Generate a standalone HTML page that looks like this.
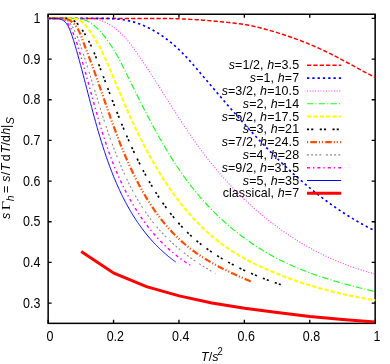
<!DOCTYPE html>
<html><head><meta charset="utf-8"><title>plot</title>
<style>html,body{margin:0;padding:0;background:#fff}svg{display:block;will-change:transform}text{font-family:"Liberation Sans",sans-serif;fill:#000}</style></head>
<body>
<svg width="390" height="364" viewBox="0 0 390 364">
<rect width="390" height="364" fill="#fff"/>
<defs><clipPath id="c"><rect x="47.40" y="13.50" width="328.50" height="311.60"/></clipPath><clipPath id="c2"><rect x="0" y="0" width="374.40" height="364"/></clipPath></defs>
<g stroke="#000" stroke-width="1.5" fill="none">
<rect x="48.15" y="14.25" width="327.00" height="309.10"/>
<path d="M48.15 303.09h3.50 M375.15 303.09h-3.50 M48.15 262.42h3.50 M375.15 262.42h-3.50 M48.15 221.75h3.50 M375.15 221.75h-3.50 M48.15 181.08h3.50 M375.15 181.08h-3.50 M48.15 140.41h3.50 M375.15 140.41h-3.50 M48.15 99.74h3.50 M375.15 99.74h-3.50 M48.15 59.07h3.50 M375.15 59.07h-3.50 M48.15 18.40h3.50 M375.15 18.40h-3.50 M48.15 323.35v-3.50 M48.15 14.25v3.50 M113.55 323.35v-3.50 M113.55 14.25v3.50 M178.95 323.35v-3.50 M178.95 14.25v3.50 M244.35 323.35v-3.50 M244.35 14.25v3.50 M309.75 323.35v-3.50 M309.75 14.25v3.50 M375.15 323.35v-3.50 M375.15 14.25v3.50" stroke-width="1.35"/>
</g>
<g fill="none" clip-path="url(#c)" stroke-linejoin="round">
<path d="M48.50 18.40 L50.04 18.40 L51.58 18.40 L53.13 18.40 L54.67 18.40 L56.21 18.40 L57.76 18.40 L59.30 18.40 L60.84 18.40 L62.38 18.40 L63.93 18.40 L65.47 18.40 L67.01 18.40 L68.56 18.40 L70.10 18.40 L71.64 18.40 L73.19 18.40 L74.73 18.40 L76.28 18.40 L77.82 18.40 L79.36 18.40 L80.91 18.40 L82.45 18.40 L84.00 18.40 L85.54 18.40 L87.08 18.40 L88.63 18.40 L90.17 18.40 L91.72 18.40 L93.26 18.40 L94.81 18.40 L96.35 18.40 L97.90 18.40 L99.44 18.40 L100.99 18.40 L102.53 18.40 L104.07 18.40 L105.62 18.40 L107.16 18.40 L108.71 18.40 L110.25 18.40 L111.80 18.40 L113.34 18.40 L114.89 18.40 L116.43 18.40 L117.98 18.40 L119.52 18.40 L121.07 18.40 L122.61 18.40 L124.16 18.40 L125.70 18.40 L127.25 18.40 L128.79 18.40 L130.33 18.40 L131.88 18.40 L133.42 18.40 L134.97 18.40 L136.51 18.40 L138.06 18.40 L139.60 18.40 L141.14 18.40 L142.69 18.40 L144.23 18.40 L145.78 18.40 L147.32 18.40 L148.87 18.40 L150.41 18.40 L151.95 18.40 L153.50 18.40 L155.04 18.40 L156.58 18.40 L158.13 18.40 L159.67 18.40 L161.21 18.40 L162.76 18.40 L164.30 18.42 L165.84 18.45 L167.39 18.49 L168.93 18.52 L170.47 18.56 L172.01 18.61 L173.56 18.65 L175.10 18.70 L176.64 18.75 L178.18 18.80 L179.73 18.86 L181.27 18.92 L182.81 18.99 L184.35 19.05 L185.89 19.13 L187.43 19.20 L188.97 19.28 L190.52 19.36 L192.06 19.45 L193.60 19.54 L195.14 19.63 L196.68 19.73 L198.22 19.83 L199.76 19.93 L201.30 20.04 L202.84 20.16 L204.38 20.27 L205.92 20.39 L207.46 20.52 L208.99 20.65 L210.53 20.78 L212.07 20.91 L213.61 21.05 L215.15 21.19 L216.69 21.33 L218.23 21.48 L219.76 21.62 L221.30 21.77 L222.84 21.93 L224.37 22.08 L225.91 22.24 L227.45 22.40 L228.99 22.56 L230.52 22.72 L232.06 22.89 L233.59 23.06 L235.13 23.23 L236.66 23.41 L238.19 23.59 L239.73 23.79 L241.26 23.99 L242.78 24.21 L244.31 24.45 L245.83 24.70 L247.35 24.96 L248.86 25.25 L250.37 25.55 L251.88 25.86 L253.39 26.19 L254.89 26.53 L256.39 26.89 L257.89 27.25 L259.39 27.62 L260.88 28.01 L262.38 28.40 L263.87 28.79 L265.36 29.20 L266.85 29.60 L268.34 30.02 L269.82 30.44 L271.31 30.87 L272.79 31.30 L274.27 31.74 L275.75 32.18 L277.23 32.63 L278.71 33.09 L280.18 33.55 L281.65 34.02 L283.12 34.50 L284.59 34.98 L286.05 35.47 L287.52 35.96 L288.98 36.46 L290.44 36.97 L291.90 37.48 L293.35 38.00 L294.80 38.52 L296.25 39.06 L297.70 39.59 L299.15 40.14 L300.59 40.69 L302.03 41.24 L303.47 41.80 L304.90 42.37 L306.34 42.95 L307.77 43.53 L309.19 44.12 L310.62 44.71 L312.04 45.31 L313.46 45.92 L314.88 46.53 L316.29 47.15 L317.70 47.77 L319.11 48.41 L320.51 49.04 L321.92 49.69 L323.31 50.34 L324.71 51.00 L326.10 51.66 L327.49 52.33 L328.88 53.01 L330.26 53.69 L331.64 54.38 L333.02 55.07 L334.39 55.77 L335.76 56.48 L337.13 57.19 L338.50 57.90 L339.86 58.62 L341.22 59.34 L342.59 60.07 L343.95 60.80 L345.31 61.53 L346.66 62.26 L348.02 62.99 L349.38 63.73 L350.73 64.47 L352.09 65.20 L353.45 65.94 L354.80 66.68 L356.16 67.42 L357.52 68.15 L358.87 68.89 L360.23 69.62 L361.59 70.36 L362.95 71.09 L364.32 71.81 L365.68 72.54 L367.05 73.26 L368.42 73.98 L369.79 74.69 L371.16 75.40 L372.54 76.11 L373.92 76.81 L375.30 77.50" stroke="#ff0000" stroke-width="1.45" stroke-dasharray="4.3 2.05"/>
<path d="M48.50 18.40 L50.26 18.40 L52.03 18.40 L53.81 18.40 L55.60 18.40 L57.41 18.40 L59.23 18.40 L61.05 18.40 L62.89 18.40 L64.73 18.40 L66.58 18.40 L68.45 18.40 L70.31 18.40 L72.19 18.40 L74.07 18.40 L75.95 18.40 L77.85 18.40 L79.74 18.40 L81.64 18.40 L83.54 18.40 L85.45 18.40 L87.35 18.40 L89.26 18.40 L91.17 18.40 L93.08 18.40 L94.99 18.40 L96.90 18.40 L98.81 18.40 L100.71 18.40 L102.62 18.40 L104.52 18.40 L106.41 18.43 L108.30 18.47 L110.19 18.54 L112.07 18.63 L113.95 18.75 L115.82 18.89 L117.68 19.06 L119.54 19.26 L121.38 19.49 L123.22 19.76 L125.05 20.06 L126.87 20.39 L128.68 20.76 L130.48 21.18 L132.26 21.63 L134.04 22.12 L135.80 22.66 L137.55 23.23 L139.28 23.84 L141.01 24.49 L142.72 25.18 L144.42 25.90 L146.11 26.65 L147.78 27.44 L149.44 28.27 L151.08 29.12 L152.72 30.01 L154.34 30.92 L155.94 31.87 L157.53 32.84 L159.11 33.84 L160.67 34.87 L162.22 35.92 L163.75 37.00 L165.27 38.10 L166.77 39.23 L168.26 40.38 L169.73 41.54 L171.19 42.73 L172.63 43.94 L174.05 45.17 L175.46 46.41 L176.86 47.67 L178.23 48.95 L179.60 50.24 L180.94 51.54 L182.27 52.86 L183.58 54.19 L184.88 55.53 L186.17 56.88 L187.44 58.25 L188.70 59.62 L189.95 61.00 L191.20 62.39 L192.43 63.78 L193.66 65.18 L194.88 66.59 L196.09 68.00 L197.30 69.42 L198.50 70.84 L199.71 72.26 L200.90 73.68 L202.10 75.10 L203.30 76.53 L204.50 77.95 L205.70 79.37 L206.90 80.79 L208.10 82.22 L209.30 83.64 L210.50 85.06 L211.71 86.48 L212.91 87.90 L214.11 89.32 L215.32 90.73 L216.53 92.15 L217.73 93.57 L218.94 94.98 L220.15 96.40 L221.36 97.81 L222.58 99.22 L223.79 100.63 L225.01 102.04 L226.22 103.45 L227.44 104.86 L228.66 106.26 L229.89 107.67 L231.11 109.07 L232.34 110.47 L233.56 111.87 L234.79 113.27 L236.03 114.67 L237.26 116.06 L238.50 117.46 L239.74 118.85 L240.98 120.24 L242.22 121.63 L243.47 123.02 L244.72 124.40 L245.97 125.78 L247.22 127.17 L248.48 128.55 L249.74 129.92 L251.00 131.30 L252.27 132.67 L253.53 134.04 L254.80 135.41 L256.08 136.77 L257.36 138.14 L258.64 139.50 L259.92 140.85 L261.21 142.21 L262.50 143.56 L263.79 144.91 L265.08 146.25 L266.38 147.59 L267.69 148.93 L268.99 150.26 L270.30 151.59 L271.62 152.92 L272.94 154.24 L274.26 155.56 L275.58 156.88 L276.91 158.19 L278.24 159.49 L279.58 160.80 L280.92 162.10 L282.26 163.39 L283.61 164.68 L284.96 165.96 L286.32 167.24 L287.68 168.52 L289.04 169.79 L290.41 171.05 L291.79 172.31 L293.16 173.57 L294.54 174.82 L295.93 176.06 L297.32 177.30 L298.72 178.53 L300.12 179.76 L301.52 180.98 L302.93 182.20 L304.34 183.41 L305.76 184.61 L307.19 185.81 L308.61 187.00 L310.05 188.18 L311.48 189.36 L312.93 190.53 L314.38 191.70 L315.83 192.86 L317.29 194.01 L318.75 195.15 L320.22 196.29 L321.69 197.42 L323.17 198.55 L324.66 199.66 L326.15 200.77 L327.64 201.87 L329.15 202.97 L330.65 204.05 L332.16 205.13 L333.68 206.20 L335.21 207.27 L336.74 208.32 L338.27 209.37 L339.81 210.41 L341.36 211.44 L342.91 212.46 L344.47 213.47 L346.04 214.48 L347.61 215.48 L349.19 216.46 L350.77 217.44 L352.36 218.41 L353.96 219.37 L355.56 220.33 L357.17 221.27 L358.78 222.20 L360.40 223.12 L362.03 224.04 L363.67 224.94 L365.31 225.84 L366.96 226.72 L368.61 227.60 L370.27 228.46 L371.94 229.32 L373.62 230.17 L375.30 231.00" stroke="#0000ff" stroke-width="1.65" stroke-dasharray="2.3 3.0"/>
<path d="M48.50 18.40 L50.33 18.40 L52.19 18.40 L54.08 18.40 L55.99 18.40 L57.94 18.40 L59.90 18.40 L61.89 18.40 L63.90 18.40 L65.92 18.40 L67.95 18.40 L69.99 18.40 L72.04 18.40 L74.10 18.40 L76.16 18.40 L78.21 18.40 L80.27 18.40 L82.32 18.40 L84.36 18.40 L86.39 18.40 L88.41 18.40 L90.42 18.40 L92.40 18.55 L94.37 18.81 L96.31 19.18 L98.23 19.66 L100.13 20.23 L101.99 20.90 L103.82 21.65 L105.63 22.49 L107.40 23.40 L109.13 24.38 L110.83 25.42 L112.49 26.53 L114.11 27.68 L115.69 28.89 L117.23 30.14 L118.73 31.43 L120.20 32.76 L121.63 34.13 L123.03 35.53 L124.39 36.97 L125.73 38.44 L127.05 39.93 L128.33 41.46 L129.60 43.01 L130.84 44.58 L132.06 46.17 L133.27 47.77 L134.45 49.39 L135.63 51.03 L136.79 52.67 L137.94 54.32 L139.09 55.98 L140.22 57.65 L141.35 59.31 L142.48 60.98 L143.59 62.65 L144.71 64.32 L145.82 65.99 L146.92 67.67 L148.02 69.34 L149.12 71.02 L150.21 72.70 L151.29 74.38 L152.38 76.06 L153.46 77.75 L154.54 79.43 L155.61 81.12 L156.68 82.80 L157.75 84.49 L158.82 86.18 L159.89 87.86 L160.95 89.55 L162.02 91.24 L163.08 92.92 L164.14 94.61 L165.20 96.29 L166.26 97.98 L167.32 99.66 L168.38 101.35 L169.44 103.03 L170.51 104.71 L171.57 106.39 L172.63 108.07 L173.70 109.75 L174.76 111.42 L175.83 113.10 L176.90 114.77 L177.98 116.44 L179.05 118.11 L180.13 119.77 L181.21 121.43 L182.30 123.09 L183.39 124.75 L184.48 126.41 L185.58 128.06 L186.68 129.70 L187.78 131.35 L188.89 132.99 L190.01 134.63 L191.13 136.26 L192.26 137.89 L193.39 139.52 L194.53 141.14 L195.67 142.76 L196.82 144.37 L197.98 145.98 L199.14 147.59 L200.32 149.19 L201.50 150.78 L202.68 152.37 L203.88 153.96 L205.08 155.53 L206.29 157.11 L207.52 158.68 L208.74 160.24 L209.98 161.80 L211.23 163.35 L212.48 164.89 L213.74 166.43 L215.01 167.96 L216.29 169.49 L217.58 171.01 L218.88 172.53 L220.18 174.03 L221.49 175.53 L222.81 177.03 L224.14 178.52 L225.47 180.00 L226.82 181.47 L228.17 182.94 L229.53 184.40 L230.90 185.85 L232.27 187.30 L233.66 188.73 L235.05 190.16 L236.45 191.59 L237.85 193.00 L239.27 194.41 L240.69 195.81 L242.12 197.20 L243.56 198.59 L245.01 199.96 L246.46 201.33 L247.92 202.69 L249.39 204.04 L250.87 205.38 L252.35 206.72 L253.84 208.04 L255.34 209.36 L256.85 210.67 L258.36 211.97 L259.88 213.26 L261.41 214.54 L262.95 215.81 L264.49 217.07 L266.04 218.33 L267.60 219.57 L269.16 220.81 L270.74 222.03 L272.32 223.25 L273.90 224.45 L275.50 225.65 L277.10 226.83 L278.71 228.01 L280.32 229.17 L281.94 230.33 L283.57 231.47 L285.21 232.60 L286.85 233.73 L288.50 234.84 L290.16 235.94 L291.82 237.03 L293.49 238.11 L295.17 239.18 L296.85 240.24 L298.54 241.29 L300.24 242.33 L301.95 243.35 L303.66 244.36 L305.37 245.37 L307.10 246.36 L308.83 247.33 L310.57 248.30 L312.31 249.26 L314.06 250.20 L315.82 251.13 L317.58 252.05 L319.35 252.95 L321.13 253.85 L322.91 254.73 L324.70 255.60 L326.49 256.45 L328.30 257.30 L330.10 258.13 L331.92 258.95 L333.74 259.75 L335.56 260.54 L337.40 261.32 L339.24 262.09 L341.08 262.84 L342.93 263.58 L344.79 264.30 L346.65 265.02 L348.52 265.71 L350.40 266.40 L352.28 267.07 L354.16 267.73 L356.06 268.37 L357.95 269.00 L359.86 269.61 L361.77 270.21 L363.69 270.79 L365.61 271.37 L367.53 271.92 L369.47 272.46 L371.41 272.99 L373.35 273.50 L375.30 274.00" stroke="#ff00ff" stroke-width="1.05" stroke-dasharray="0.95 1.75" stroke-opacity="0.85"/>
<path d="M48.50 18.40 L50.34 18.40 L52.24 18.40 L54.21 18.40 L56.22 18.40 L58.29 18.40 L60.38 18.40 L62.51 18.40 L64.65 18.40 L66.81 18.40 L68.97 18.40 L71.13 18.40 L73.27 18.40 L75.39 18.40 L77.49 18.49 L79.54 18.70 L81.56 19.06 L83.52 19.57 L85.42 20.25 L87.27 21.07 L89.07 22.02 L90.82 23.09 L92.51 24.27 L94.14 25.55 L95.73 26.90 L97.27 28.33 L98.76 29.82 L100.21 31.36 L101.61 32.93 L102.98 34.54 L104.31 36.16 L105.60 37.80 L106.85 39.46 L108.07 41.14 L109.27 42.83 L110.43 44.54 L111.56 46.26 L112.66 47.99 L113.75 49.74 L114.80 51.50 L115.84 53.27 L116.86 55.05 L117.85 56.84 L118.84 58.64 L119.80 60.44 L120.76 62.26 L121.70 64.08 L122.63 65.91 L123.55 67.74 L124.47 69.58 L125.38 71.42 L126.29 73.27 L127.20 75.11 L128.11 76.96 L129.02 78.81 L129.92 80.67 L130.83 82.52 L131.75 84.37 L132.66 86.23 L133.57 88.08 L134.49 89.94 L135.41 91.80 L136.33 93.65 L137.25 95.51 L138.17 97.36 L139.10 99.22 L140.03 101.07 L140.96 102.93 L141.90 104.78 L142.84 106.63 L143.78 108.48 L144.73 110.33 L145.68 112.18 L146.63 114.02 L147.59 115.87 L148.55 117.71 L149.52 119.55 L150.49 121.39 L151.46 123.22 L152.45 125.05 L153.43 126.88 L154.42 128.71 L155.42 130.53 L156.42 132.35 L157.43 134.16 L158.44 135.98 L159.46 137.78 L160.49 139.59 L161.52 141.39 L162.56 143.18 L163.61 144.97 L164.66 146.76 L165.72 148.54 L166.79 150.32 L167.86 152.09 L168.95 153.85 L170.04 155.61 L171.14 157.37 L172.24 159.11 L173.36 160.86 L174.48 162.59 L175.61 164.32 L176.75 166.05 L177.90 167.76 L179.06 169.47 L180.23 171.17 L181.41 172.87 L182.59 174.56 L183.79 176.24 L185.00 177.91 L186.22 179.57 L187.44 181.23 L188.68 182.88 L189.93 184.52 L191.19 186.15 L192.46 187.77 L193.74 189.39 L195.04 190.99 L196.34 192.59 L197.66 194.17 L198.98 195.75 L200.32 197.32 L201.68 198.88 L203.04 200.42 L204.42 201.96 L205.81 203.49 L207.21 205.00 L208.62 206.51 L210.05 208.01 L211.48 209.49 L212.93 210.96 L214.39 212.43 L215.87 213.88 L217.35 215.32 L218.85 216.75 L220.35 218.17 L221.87 219.57 L223.40 220.97 L224.94 222.35 L226.49 223.72 L228.05 225.08 L229.62 226.43 L231.21 227.76 L232.80 229.08 L234.40 230.39 L236.02 231.69 L237.64 232.97 L239.28 234.24 L240.92 235.50 L242.57 236.75 L244.24 237.98 L245.91 239.20 L247.59 240.40 L249.29 241.59 L250.99 242.77 L252.70 243.94 L254.42 245.09 L256.15 246.22 L257.89 247.35 L259.63 248.45 L261.39 249.55 L263.15 250.63 L264.93 251.69 L266.71 252.74 L268.50 253.77 L270.30 254.79 L272.10 255.80 L273.92 256.79 L275.74 257.76 L277.57 258.72 L279.41 259.67 L281.25 260.59 L283.11 261.51 L284.97 262.40 L286.83 263.28 L288.71 264.15 L290.59 265.00 L292.48 265.84 L294.37 266.67 L296.27 267.48 L298.18 268.27 L300.09 269.06 L302.01 269.83 L303.93 270.59 L305.86 271.33 L307.79 272.07 L309.73 272.79 L311.68 273.50 L313.63 274.20 L315.58 274.88 L317.54 275.56 L319.50 276.23 L321.46 276.88 L323.43 277.53 L325.40 278.16 L327.38 278.79 L329.35 279.40 L331.34 280.01 L333.32 280.61 L335.31 281.20 L337.30 281.78 L339.29 282.36 L341.28 282.92 L343.28 283.48 L345.27 284.03 L347.27 284.58 L349.27 285.11 L351.27 285.64 L353.27 286.17 L355.27 286.69 L357.28 287.20 L359.28 287.71 L361.28 288.21 L363.29 288.71 L365.29 289.20 L367.29 289.69 L369.30 290.17 L371.30 290.65 L373.30 291.13 L375.30 291.60" stroke="#00ff00" stroke-width="1.15" stroke-dasharray="6.5 2.1 1.1 2" stroke-opacity="0.90"/>
<path d="M48.50 18.40 L52.36 18.40 L55.45 18.40 L57.92 18.40 L59.91 18.40 L61.57 18.40 L63.02 18.40 L64.42 18.40 L65.91 18.40 L67.63 18.40 L69.69 18.40 L71.96 18.40 L74.24 18.44 L76.36 18.86 L78.33 19.56 L80.14 20.51 L81.83 21.67 L83.41 23.02 L84.88 24.51 L86.28 26.11 L87.61 27.80 L88.89 29.53 L90.14 31.28 L91.35 33.05 L92.52 34.83 L93.67 36.62 L94.79 38.43 L95.88 40.25 L96.94 42.08 L97.98 43.93 L98.99 45.78 L99.98 47.65 L100.95 49.53 L101.90 51.41 L102.83 53.31 L103.74 55.21 L104.64 57.12 L105.52 59.04 L106.39 60.97 L107.25 62.90 L108.09 64.83 L108.93 66.77 L109.76 68.72 L110.58 70.67 L111.40 72.62 L112.22 74.58 L113.03 76.54 L113.84 78.50 L114.65 80.46 L115.47 82.42 L116.28 84.38 L117.10 86.34 L117.92 88.30 L118.74 90.26 L119.57 92.22 L120.40 94.18 L121.23 96.14 L122.07 98.09 L122.91 100.05 L123.76 102.01 L124.60 103.96 L125.46 105.91 L126.31 107.87 L127.17 109.82 L128.04 111.76 L128.91 113.71 L129.78 115.65 L130.66 117.59 L131.55 119.53 L132.44 121.47 L133.34 123.40 L134.24 125.33 L135.15 127.26 L136.06 129.18 L136.98 131.10 L137.91 133.02 L138.84 134.93 L139.78 136.84 L140.73 138.75 L141.68 140.65 L142.64 142.55 L143.61 144.44 L144.59 146.33 L145.57 148.21 L146.57 150.09 L147.57 151.96 L148.57 153.83 L149.59 155.69 L150.62 157.55 L151.65 159.40 L152.69 161.25 L153.75 163.09 L154.81 164.93 L155.88 166.75 L156.96 168.58 L158.05 170.39 L159.15 172.20 L160.26 174.00 L161.38 175.80 L162.51 177.59 L163.65 179.37 L164.80 181.14 L165.96 182.91 L167.13 184.66 L168.32 186.42 L169.51 188.16 L170.72 189.89 L171.94 191.62 L173.17 193.34 L174.41 195.05 L175.67 196.75 L176.94 198.44 L178.22 200.12 L179.51 201.80 L180.81 203.46 L182.13 205.11 L183.46 206.76 L184.81 208.39 L186.16 210.01 L187.54 211.63 L188.92 213.23 L190.32 214.81 L191.73 216.39 L193.15 217.95 L194.59 219.50 L196.04 221.04 L197.51 222.56 L198.99 224.07 L200.48 225.57 L201.99 227.05 L203.51 228.52 L205.05 229.97 L206.60 231.40 L208.16 232.82 L209.74 234.22 L211.34 235.61 L212.95 236.98 L214.57 238.33 L216.21 239.66 L217.87 240.98 L219.54 242.27 L221.22 243.55 L222.92 244.81 L224.64 246.05 L226.37 247.27 L228.12 248.47 L229.88 249.65 L231.66 250.82 L233.45 251.96 L235.25 253.08 L237.07 254.19 L238.90 255.28 L240.74 256.35 L242.59 257.40 L244.46 258.44 L246.33 259.46 L248.22 260.46 L250.11 261.45 L252.01 262.42 L253.92 263.38 L255.84 264.32 L257.77 265.25 L259.70 266.16 L261.64 267.06 L263.58 267.95 L265.53 268.82 L267.48 269.68 L269.44 270.53 L271.40 271.36 L273.37 272.19 L275.34 273.00 L277.31 273.80 L279.28 274.59 L281.26 275.37 L283.23 276.14 L285.21 276.89 L287.20 277.64 L289.18 278.37 L291.17 279.09 L293.16 279.81 L295.16 280.51 L297.16 281.20 L299.16 281.88 L301.16 282.55 L303.17 283.21 L305.17 283.85 L307.19 284.49 L309.20 285.12 L311.22 285.74 L313.24 286.35 L315.26 286.94 L317.29 287.53 L319.32 288.11 L321.35 288.67 L323.38 289.23 L325.42 289.78 L327.46 290.32 L329.51 290.85 L331.56 291.37 L333.61 291.88 L335.66 292.38 L337.72 292.87 L339.78 293.35 L341.84 293.82 L343.91 294.29 L345.98 294.74 L348.05 295.19 L350.13 295.62 L352.20 296.05 L354.29 296.47 L356.37 296.88 L358.46 297.28 L360.56 297.68 L362.65 298.06 L364.75 298.44 L366.85 298.81 L368.96 299.17 L371.07 299.52 L373.18 299.86 L375.30 300.20" stroke="#ffff00" stroke-width="2.10" stroke-dasharray="4.3 2.05"/>
<path d="M48.50 18.40 L50.03 18.40 L51.64 18.40 L53.32 18.40 L55.06 18.40 L56.83 18.40 L58.64 18.40 L60.47 18.40 L62.30 18.40 L64.12 18.40 L65.92 18.40 L67.66 18.46 L69.35 18.78 L70.95 19.27 L72.46 19.93 L73.88 20.75 L75.23 21.71 L76.50 22.79 L77.71 23.99 L78.86 25.27 L79.95 26.63 L81.00 28.05 L82.00 29.50 L82.97 30.99 L83.91 32.48 L84.82 33.98 L85.71 35.49 L86.57 37.01 L87.41 38.53 L88.22 40.06 L89.01 41.60 L89.79 43.14 L90.54 44.69 L91.27 46.25 L91.99 47.81 L92.69 49.37 L93.38 50.94 L94.05 52.52 L94.71 54.09 L95.36 55.68 L96.00 57.26 L96.63 58.85 L97.26 60.44 L97.87 62.04 L98.48 63.63 L99.09 65.23 L99.70 66.83 L100.30 68.43 L100.90 70.03 L101.51 71.64 L102.11 73.24 L102.71 74.85 L103.31 76.45 L103.91 78.06 L104.52 79.66 L105.12 81.27 L105.72 82.88 L106.33 84.49 L106.93 86.10 L107.54 87.71 L108.14 89.31 L108.75 90.92 L109.36 92.53 L109.97 94.14 L110.58 95.75 L111.20 97.36 L111.81 98.97 L112.43 100.58 L113.05 102.19 L113.67 103.80 L114.29 105.40 L114.91 107.01 L115.54 108.62 L116.17 110.22 L116.80 111.83 L117.44 113.43 L118.07 115.04 L118.71 116.64 L119.36 118.24 L120.00 119.84 L120.65 121.44 L121.30 123.04 L121.96 124.64 L122.62 126.23 L123.28 127.83 L123.95 129.42 L124.62 131.01 L125.29 132.60 L125.97 134.19 L126.66 135.78 L127.34 137.36 L128.04 138.94 L128.73 140.53 L129.43 142.11 L130.14 143.68 L130.85 145.26 L131.56 146.83 L132.28 148.40 L133.01 149.97 L133.74 151.54 L134.48 153.10 L135.22 154.66 L135.97 156.22 L136.72 157.78 L137.48 159.33 L138.25 160.88 L139.02 162.43 L139.80 163.97 L140.58 165.52 L141.37 167.05 L142.17 168.59 L142.97 170.12 L143.78 171.65 L144.60 173.18 L145.42 174.70 L146.25 176.22 L147.09 177.73 L147.94 179.24 L148.79 180.75 L149.65 182.25 L150.52 183.74 L151.40 185.23 L152.28 186.72 L153.17 188.20 L154.07 189.67 L154.98 191.14 L155.90 192.60 L156.82 194.06 L157.75 195.50 L158.70 196.95 L159.65 198.38 L160.61 199.81 L161.58 201.23 L162.55 202.65 L163.54 204.06 L164.54 205.45 L165.54 206.85 L166.56 208.23 L167.58 209.60 L168.62 210.97 L169.66 212.33 L170.71 213.68 L171.78 215.02 L172.85 216.35 L173.94 217.67 L175.03 218.99 L176.14 220.29 L177.26 221.58 L178.38 222.86 L179.52 224.14 L180.67 225.40 L181.83 226.65 L183.00 227.89 L184.18 229.12 L185.38 230.34 L186.58 231.55 L187.80 232.74 L189.03 233.92 L190.27 235.10 L191.52 236.26 L192.78 237.40 L194.06 238.54 L195.35 239.66 L196.65 240.77 L197.96 241.87 L199.29 242.95 L200.63 244.02 L201.98 245.08 L203.34 246.12 L204.71 247.16 L206.09 248.18 L207.49 249.18 L208.89 250.18 L210.31 251.16 L211.73 252.13 L213.17 253.09 L214.61 254.04 L216.07 254.97 L217.53 255.89 L219.00 256.81 L220.48 257.71 L221.97 258.59 L223.46 259.47 L224.97 260.34 L226.48 261.19 L227.99 262.04 L229.52 262.87 L231.05 263.69 L232.58 264.51 L234.13 265.31 L235.68 266.10 L237.23 266.88 L238.79 267.65 L240.35 268.41 L241.92 269.16 L243.49 269.90 L245.07 270.64 L246.65 271.36 L248.23 272.07 L249.82 272.77 L251.41 273.46 L253.00 274.15 L254.59 274.82 L256.19 275.49 L257.79 276.15 L259.39 276.79 L260.99 277.43 L262.59 278.06 L264.19 278.69 L265.80 279.30 L267.40 279.91 L269.00 280.50 L270.61 281.09 L272.21 281.67 L273.81 282.25 L275.41 282.81 L277.01 283.37 L278.61 283.92 L280.21 284.46 L281.80 285.00" stroke="#000000" stroke-width="1.65" stroke-dasharray="2.1 2.1 2.1 6.45"/>
<path d="M48.50 18.40 L49.97 18.40 L51.51 18.40 L53.11 18.40 L54.74 18.40 L56.41 18.40 L58.09 18.40 L59.77 18.40 L61.45 18.40 L63.10 18.47 L64.71 18.65 L66.28 18.98 L67.78 19.47 L69.22 20.11 L70.57 20.90 L71.85 21.80 L73.04 22.80 L74.14 23.89 L75.17 25.07 L76.12 26.31 L77.01 27.62 L77.84 28.99 L78.62 30.41 L79.35 31.88 L80.04 33.38 L80.69 34.91 L81.32 36.46 L81.92 38.03 L82.50 39.61 L83.07 41.19 L83.64 42.76 L84.21 44.31 L84.77 45.85 L85.34 47.38 L85.91 48.90 L86.48 50.40 L87.05 51.90 L87.62 53.39 L88.19 54.88 L88.76 56.36 L89.32 57.84 L89.88 59.32 L90.44 60.81 L91.00 62.29 L91.56 63.78 L92.11 65.27 L92.66 66.76 L93.20 68.26 L93.75 69.75 L94.29 71.25 L94.83 72.75 L95.37 74.26 L95.91 75.76 L96.44 77.27 L96.98 78.77 L97.51 80.28 L98.04 81.79 L98.57 83.31 L99.10 84.82 L99.63 86.33 L100.15 87.85 L100.68 89.37 L101.21 90.88 L101.73 92.40 L102.26 93.92 L102.79 95.44 L103.31 96.96 L103.84 98.49 L104.37 100.01 L104.89 101.53 L105.42 103.05 L105.95 104.58 L106.48 106.10 L107.01 107.62 L107.54 109.15 L108.07 110.67 L108.61 112.20 L109.14 113.72 L109.68 115.24 L110.22 116.77 L110.76 118.29 L111.31 119.81 L111.85 121.33 L112.40 122.86 L112.95 124.38 L113.50 125.90 L114.06 127.42 L114.62 128.93 L115.18 130.45 L115.74 131.97 L116.31 133.48 L116.88 135.00 L117.45 136.51 L118.03 138.02 L118.61 139.53 L119.20 141.04 L119.79 142.54 L120.38 144.05 L120.98 145.55 L121.58 147.05 L122.19 148.55 L122.80 150.05 L123.42 151.54 L124.04 153.04 L124.66 154.53 L125.30 156.02 L125.93 157.50 L126.57 158.99 L127.22 160.47 L127.88 161.95 L128.53 163.42 L129.20 164.90 L129.87 166.37 L130.55 167.84 L131.23 169.30 L131.92 170.76 L132.62 172.22 L133.32 173.68 L134.03 175.13 L134.75 176.58 L135.48 178.02 L136.21 179.46 L136.95 180.90 L137.69 182.34 L138.45 183.77 L139.21 185.19 L139.98 186.62 L140.76 188.04 L141.54 189.45 L142.34 190.86 L143.14 192.26 L143.95 193.66 L144.77 195.06 L145.59 196.45 L146.43 197.83 L147.27 199.21 L148.13 200.58 L148.99 201.95 L149.86 203.30 L150.74 204.66 L151.62 206.00 L152.52 207.34 L153.43 208.68 L154.34 210.00 L155.27 211.32 L156.20 212.63 L157.15 213.93 L158.10 215.23 L159.06 216.52 L160.03 217.80 L161.02 219.07 L162.01 220.33 L163.01 221.58 L164.02 222.83 L165.04 224.06 L166.08 225.29 L167.12 226.50 L168.17 227.71 L169.24 228.91 L170.31 230.09 L171.40 231.27 L172.49 232.44 L173.60 233.59 L174.72 234.74 L175.84 235.87 L176.98 236.99 L178.13 238.10 L179.29 239.20 L180.47 240.29 L181.65 241.37 L182.85 242.43 L184.05 243.49 L185.27 244.53 L186.50 245.55 L187.75 246.57 L189.00 247.57 L190.27 248.56 L191.54 249.53 L192.83 250.50 L194.13 251.45 L195.44 252.39 L196.76 253.32 L198.09 254.23 L199.43 255.13 L200.78 256.03 L202.14 256.91 L203.50 257.78 L204.88 258.64 L206.26 259.48 L207.65 260.32 L209.05 261.15 L210.45 261.97 L211.86 262.78 L213.27 263.57 L214.69 264.36 L216.12 265.14 L217.55 265.91 L218.99 266.68 L220.43 267.43 L221.87 268.17 L223.32 268.91 L224.78 269.64 L226.23 270.36 L227.69 271.07 L229.15 271.78 L230.61 272.48 L232.07 273.17 L233.54 273.85 L235.00 274.53 L236.47 275.20 L237.94 275.87 L239.41 276.52 L240.87 277.18 L242.34 277.82 L243.80 278.47 L245.27 279.10 L246.73 279.73 L248.19 280.36 L249.65 280.98 L251.10 281.60" stroke="#ff4d00" stroke-width="2.20" stroke-dasharray="6.6 2 1.1 1.9 1.1 2.2" stroke-dashoffset="11.60"/>
<path d="M48.50 18.40 L49.78 18.40 L51.15 18.40 L52.61 18.40 L54.13 18.40 L55.69 18.40 L57.27 18.40 L58.84 18.40 L60.39 18.40 L61.90 18.40 L63.35 18.47 L64.71 18.85 L65.96 19.46 L67.12 20.27 L68.19 21.24 L69.18 22.33 L70.12 23.47 L71.00 24.65 L71.84 25.86 L72.63 27.09 L73.38 28.34 L74.09 29.62 L74.76 30.92 L75.41 32.23 L76.02 33.56 L76.60 34.91 L77.17 36.27 L77.71 37.64 L78.23 39.02 L78.74 40.41 L79.23 41.80 L79.72 43.20 L80.20 44.60 L80.68 46.01 L81.15 47.41 L81.62 48.81 L82.09 50.21 L82.56 51.62 L83.02 53.02 L83.48 54.42 L83.94 55.83 L84.39 57.23 L84.85 58.63 L85.30 60.04 L85.75 61.44 L86.20 62.85 L86.64 64.25 L87.09 65.66 L87.53 67.06 L87.97 68.47 L88.41 69.88 L88.85 71.28 L89.29 72.69 L89.72 74.09 L90.16 75.50 L90.59 76.90 L91.03 78.31 L91.46 79.71 L91.89 81.12 L92.32 82.52 L92.75 83.93 L93.18 85.33 L93.61 86.74 L94.04 88.14 L94.47 89.54 L94.90 90.95 L95.33 92.35 L95.76 93.75 L96.19 95.16 L96.62 96.56 L97.06 97.96 L97.49 99.36 L97.92 100.76 L98.35 102.16 L98.79 103.56 L99.22 104.96 L99.66 106.36 L100.10 107.76 L100.54 109.16 L100.98 110.56 L101.42 111.95 L101.86 113.35 L102.31 114.74 L102.75 116.14 L103.20 117.53 L103.65 118.93 L104.11 120.32 L104.56 121.71 L105.02 123.10 L105.48 124.49 L105.94 125.88 L106.40 127.27 L106.87 128.66 L107.34 130.05 L107.81 131.43 L108.28 132.82 L108.76 134.20 L109.24 135.58 L109.73 136.97 L110.21 138.35 L110.70 139.73 L111.20 141.11 L111.70 142.48 L112.20 143.86 L112.70 145.24 L113.21 146.61 L113.73 147.99 L114.24 149.36 L114.76 150.73 L115.29 152.10 L115.82 153.47 L116.35 154.84 L116.89 156.20 L117.43 157.57 L117.98 158.93 L118.54 160.29 L119.09 161.65 L119.66 163.01 L120.22 164.37 L120.80 165.72 L121.37 167.08 L121.96 168.43 L122.55 169.78 L123.14 171.13 L123.74 172.48 L124.35 173.82 L124.96 175.16 L125.58 176.50 L126.20 177.83 L126.83 179.17 L127.47 180.50 L128.11 181.82 L128.76 183.14 L129.41 184.46 L130.08 185.78 L130.75 187.09 L131.42 188.40 L132.11 189.70 L132.80 191.00 L133.49 192.30 L134.20 193.59 L134.91 194.88 L135.63 196.16 L136.35 197.44 L137.09 198.71 L137.83 199.98 L138.58 201.24 L139.34 202.50 L140.11 203.75 L140.88 205.00 L141.66 206.24 L142.45 207.48 L143.25 208.70 L144.06 209.93 L144.88 211.15 L145.70 212.36 L146.54 213.56 L147.38 214.76 L148.23 215.95 L149.09 217.13 L149.96 218.31 L150.84 219.48 L151.73 220.64 L152.63 221.80 L153.54 222.95 L154.46 224.09 L155.38 225.22 L156.32 226.35 L157.27 227.47 L158.23 228.57 L159.20 229.68 L160.17 230.77 L161.16 231.85 L162.16 232.93 L163.16 234.00 L164.18 235.06 L165.20 236.11 L166.23 237.16 L167.28 238.19 L168.33 239.22 L169.38 240.24 L170.45 241.25 L171.53 242.26 L172.61 243.25 L173.70 244.24 L174.80 245.22 L175.91 246.19 L177.02 247.15 L178.14 248.10 L179.27 249.05 L180.41 249.99 L181.55 250.92 L182.70 251.84 L183.86 252.75 L185.02 253.65 L186.19 254.55 L187.37 255.44 L188.55 256.32 L189.73 257.19 L190.93 258.05 L192.13 258.90 L193.33 259.75 L194.54 260.58 L195.76 261.41 L196.98 262.23 L198.20 263.04 L199.43 263.85 L200.67 264.64 L201.91 265.42 L203.15 266.20 L204.40 266.97 L205.65 267.73 L206.91 268.48 L208.17 269.22 L209.43 269.96 L210.70 270.68 L211.97 271.40 L213.24 272.11 L214.52 272.81 L215.80 273.50" stroke="#8a8a8a" stroke-width="1.10" stroke-dasharray="2 2.1 2 2.1 2 2.1 2 4.6"/>
<path d="M48.50 18.40 L49.73 18.40 L51.05 18.40 L52.44 18.40 L53.87 18.40 L55.34 18.40 L56.81 18.40 L58.27 18.40 L59.69 18.40 L61.06 18.50 L62.34 18.84 L63.53 19.38 L64.63 20.10 L65.64 20.98 L66.57 21.98 L67.45 23.06 L68.27 24.20 L69.05 25.36 L69.79 26.54 L70.49 27.73 L71.15 28.94 L71.79 30.17 L72.39 31.41 L72.97 32.66 L73.52 33.92 L74.04 35.19 L74.55 36.47 L75.03 37.76 L75.50 39.06 L75.95 40.37 L76.39 41.67 L76.82 42.99 L77.24 44.31 L77.65 45.62 L78.06 46.95 L78.46 48.27 L78.87 49.59 L79.27 50.91 L79.67 52.24 L80.06 53.56 L80.46 54.88 L80.85 56.21 L81.24 57.54 L81.62 58.86 L82.01 60.19 L82.39 61.52 L82.77 62.85 L83.15 64.18 L83.53 65.50 L83.90 66.83 L84.28 68.16 L84.65 69.49 L85.02 70.82 L85.39 72.16 L85.76 73.49 L86.13 74.82 L86.50 76.15 L86.86 77.48 L87.23 78.81 L87.59 80.14 L87.96 81.48 L88.32 82.81 L88.68 84.14 L89.05 85.47 L89.41 86.80 L89.77 88.13 L90.13 89.47 L90.49 90.80 L90.86 92.13 L91.22 93.46 L91.58 94.79 L91.94 96.12 L92.31 97.45 L92.67 98.78 L93.04 100.11 L93.40 101.44 L93.77 102.77 L94.13 104.10 L94.50 105.42 L94.87 106.75 L95.24 108.08 L95.61 109.40 L95.99 110.73 L96.36 112.05 L96.73 113.38 L97.11 114.70 L97.49 116.03 L97.87 117.35 L98.25 118.67 L98.64 119.99 L99.02 121.31 L99.41 122.63 L99.80 123.95 L100.19 125.27 L100.59 126.58 L100.99 127.90 L101.39 129.21 L101.79 130.53 L102.20 131.84 L102.60 133.15 L103.01 134.46 L103.43 135.77 L103.85 137.08 L104.27 138.38 L104.69 139.69 L105.12 140.99 L105.55 142.30 L105.98 143.60 L106.42 144.90 L106.86 146.20 L107.30 147.50 L107.75 148.79 L108.21 150.09 L108.66 151.38 L109.12 152.67 L109.59 153.96 L110.06 155.25 L110.53 156.54 L111.01 157.82 L111.49 159.11 L111.98 160.39 L112.47 161.67 L112.97 162.95 L113.47 164.23 L113.98 165.50 L114.49 166.77 L115.01 168.04 L115.53 169.31 L116.06 170.58 L116.59 171.85 L117.13 173.11 L117.68 174.37 L118.23 175.63 L118.78 176.89 L119.34 178.15 L119.91 179.40 L120.49 180.65 L121.07 181.90 L121.65 183.14 L122.24 184.39 L122.84 185.63 L123.45 186.87 L124.06 188.10 L124.67 189.33 L125.30 190.56 L125.93 191.79 L126.56 193.01 L127.20 194.23 L127.85 195.45 L128.51 196.66 L129.17 197.87 L129.84 199.07 L130.51 200.27 L131.19 201.47 L131.88 202.66 L132.58 203.85 L133.28 205.04 L133.99 206.22 L134.70 207.39 L135.42 208.57 L136.15 209.73 L136.89 210.89 L137.63 212.05 L138.38 213.20 L139.14 214.35 L139.90 215.49 L140.67 216.63 L141.45 217.76 L142.24 218.88 L143.03 220.00 L143.83 221.12 L144.64 222.23 L145.45 223.33 L146.28 224.43 L147.11 225.52 L147.94 226.60 L148.79 227.68 L149.64 228.75 L150.50 229.82 L151.37 230.88 L152.24 231.93 L153.13 232.97 L154.02 234.01 L154.92 235.04 L155.82 236.07 L156.74 237.08 L157.66 238.09 L158.59 239.10 L159.53 240.09 L160.48 241.08 L161.43 242.06 L162.39 243.03 L163.36 244.00 L164.34 244.95 L165.33 245.90 L166.33 246.84 L167.33 247.77 L168.34 248.70 L169.36 249.61 L170.39 250.52 L171.43 251.42 L172.47 252.31 L173.53 253.19 L174.59 254.06 L175.66 254.92 L176.74 255.77 L177.83 256.62 L178.93 257.45 L180.04 258.28 L181.15 259.09 L182.28 259.90 L183.41 260.69 L184.55 261.48 L185.70 262.26 L186.86 263.02 L188.03 263.78 L189.21 264.52 L190.40 265.26 L191.60 265.98 L192.80 266.70" stroke="#ff00ff" stroke-width="1.40" stroke-dasharray="3.0 3.0 1.3 3.1"/>
<path d="M48.50 18.40 L49.75 18.40 L51.05 18.40 L52.38 18.40 L53.74 18.40 L55.09 18.42 L56.45 18.50 L57.78 18.65 L59.07 18.88 L60.32 19.20 L61.50 19.64 L62.62 20.18 L63.68 20.83 L64.65 21.58 L65.54 22.45 L66.36 23.41 L67.10 24.46 L67.79 25.58 L68.42 26.75 L69.01 27.97 L69.56 29.21 L70.08 30.48 L70.57 31.74 L71.05 33.00 L71.51 34.26 L71.96 35.52 L72.39 36.77 L72.81 38.03 L73.21 39.28 L73.61 40.54 L74.00 41.79 L74.38 43.04 L74.75 44.30 L75.12 45.55 L75.49 46.80 L75.85 48.06 L76.21 49.31 L76.57 50.57 L76.93 51.82 L77.28 53.08 L77.64 54.33 L77.99 55.59 L78.34 56.85 L78.69 58.11 L79.03 59.37 L79.38 60.63 L79.72 61.89 L80.06 63.15 L80.40 64.41 L80.74 65.67 L81.08 66.94 L81.42 68.20 L81.75 69.46 L82.09 70.72 L82.42 71.99 L82.75 73.25 L83.09 74.52 L83.42 75.78 L83.75 77.04 L84.08 78.31 L84.41 79.57 L84.74 80.84 L85.07 82.11 L85.39 83.37 L85.72 84.64 L86.05 85.90 L86.38 87.17 L86.70 88.44 L87.03 89.70 L87.36 90.97 L87.69 92.24 L88.01 93.50 L88.34 94.77 L88.67 96.03 L89.00 97.30 L89.33 98.57 L89.66 99.83 L89.99 101.10 L90.32 102.37 L90.65 103.63 L90.99 104.90 L91.32 106.16 L91.65 107.43 L91.99 108.70 L92.33 109.96 L92.66 111.23 L93.00 112.49 L93.34 113.75 L93.68 115.02 L94.03 116.28 L94.37 117.55 L94.72 118.81 L95.07 120.07 L95.42 121.33 L95.77 122.60 L96.12 123.86 L96.48 125.12 L96.83 126.38 L97.19 127.64 L97.55 128.90 L97.92 130.16 L98.28 131.42 L98.65 132.68 L99.02 133.93 L99.39 135.19 L99.77 136.45 L100.15 137.70 L100.53 138.96 L100.91 140.21 L101.30 141.47 L101.68 142.72 L102.08 143.97 L102.47 145.23 L102.87 146.48 L103.27 147.73 L103.67 148.98 L104.08 150.23 L104.49 151.47 L104.91 152.72 L105.32 153.97 L105.75 155.21 L106.17 156.46 L106.60 157.70 L107.03 158.94 L107.47 160.19 L107.91 161.43 L108.35 162.67 L108.80 163.90 L109.25 165.14 L109.71 166.38 L110.17 167.61 L110.63 168.84 L111.10 170.07 L111.57 171.30 L112.05 172.53 L112.53 173.75 L113.02 174.98 L113.51 176.20 L114.01 177.42 L114.51 178.63 L115.02 179.85 L115.53 181.06 L116.04 182.27 L116.56 183.48 L117.09 184.68 L117.62 185.88 L118.16 187.08 L118.70 188.28 L119.24 189.47 L119.80 190.66 L120.35 191.85 L120.92 193.03 L121.48 194.22 L122.06 195.39 L122.64 196.57 L123.23 197.74 L123.82 198.91 L124.41 200.07 L125.02 201.23 L125.63 202.39 L126.24 203.54 L126.87 204.69 L127.49 205.83 L128.13 206.97 L128.77 208.11 L129.42 209.24 L130.07 210.37 L130.73 211.50 L131.40 212.62 L132.07 213.73 L132.75 214.84 L133.44 215.95 L134.13 217.05 L134.84 218.14 L135.54 219.23 L136.26 220.32 L136.98 221.40 L137.71 222.48 L138.45 223.55 L139.19 224.61 L139.94 225.67 L140.70 226.73 L141.47 227.78 L142.24 228.82 L143.03 229.86 L143.81 230.89 L144.61 231.92 L145.42 232.94 L146.23 233.95 L147.05 234.96 L147.88 235.96 L148.72 236.96 L149.56 237.95 L150.42 238.93 L151.28 239.91 L152.15 240.88 L153.03 241.84 L153.91 242.80 L154.81 243.75 L155.71 244.69 L156.63 245.63 L157.55 246.55 L158.48 247.48 L159.42 248.39 L160.36 249.30 L161.32 250.20 L162.29 251.09 L163.26 251.98 L164.25 252.86 L165.24 253.73 L166.24 254.59 L167.26 255.45 L168.28 256.29 L169.31 257.13 L170.35 257.97 L171.40 258.79 L172.46 259.60 L173.53 260.41 L174.61 261.21 L175.70 262.00" stroke="#0000ff" stroke-width="1.00"/>
</g>
<path d="M81.20 251.60 L113.90 273.20 L146.50 286.70 L179.20 295.90 L211.90 303.00 L244.60 308.30 L277.30 312.50 L309.90 316.50 L342.60 319.50 L375.30 322.00" stroke="#ff0000" stroke-width="3.0" stroke-linejoin="miter" fill="none" clip-path="url(#c2)"/>
<g fill="none">
<path d="M307.00 65.30 H341.20" stroke="#ff0000" stroke-width="1.45" stroke-dasharray="4.3 2.05"/>
<path d="M307.00 78.10 H341.20" stroke="#0000ff" stroke-width="1.65" stroke-dasharray="2.3 3.0"/>
<path d="M307.00 90.90 H341.20" stroke="#ff00ff" stroke-width="1.05" stroke-dasharray="0.95 1.75" stroke-opacity="0.85"/>
<path d="M307.00 103.70 H341.20" stroke="#00ff00" stroke-width="1.15" stroke-dasharray="6.5 2.1 1.1 2" stroke-opacity="0.90"/>
<path d="M307.00 116.50 H341.20" stroke="#ffff00" stroke-width="2.10" stroke-dasharray="4.3 2.05"/>
<path d="M307.00 129.30 H341.20" stroke="#000000" stroke-width="1.65" stroke-dasharray="2.1 2.1 2.1 6.45"/>
<path d="M307.00 142.10 H341.20" stroke="#ff4d00" stroke-width="2.20" stroke-dasharray="6.6 2 1.1 1.9 1.1 2.2" stroke-dashoffset="11.60"/>
<path d="M307.00 154.90 H341.20" stroke="#8a8a8a" stroke-width="1.10" stroke-dasharray="2 2.1 2 2.1 2 2.1 2 4.6"/>
<path d="M307.00 167.70 H341.20" stroke="#ff00ff" stroke-width="1.40" stroke-dasharray="3.0 3.0 1.3 3.1"/>
<path d="M307.00 180.50 H341.20" stroke="#0000ff" stroke-width="1.00"/>
<path d="M307.00 193.30 H341.20" stroke="#ff0000" stroke-width="3.0"/>
</g>
<g font-size="12.50" text-anchor="end" letter-spacing="0.09">
<text transform="translate(299.2 69.30) scale(1 1.030)"><tspan font-style="italic">s</tspan>=1/2, <tspan font-style="italic">h</tspan>=3.5</text>
<text transform="translate(299.2 82.10) scale(1 1.030)"><tspan font-style="italic">s</tspan>=1, <tspan font-style="italic">h</tspan>=7</text>
<text transform="translate(299.2 94.90) scale(1 1.030)"><tspan font-style="italic">s</tspan>=3/2, <tspan font-style="italic">h</tspan>=10.5</text>
<text transform="translate(299.2 107.70) scale(1 1.030)"><tspan font-style="italic">s</tspan>=2, <tspan font-style="italic">h</tspan>=14</text>
<text transform="translate(299.2 120.50) scale(1 1.030)"><tspan font-style="italic">s</tspan>=5/2, <tspan font-style="italic">h</tspan>=17.5</text>
<text transform="translate(299.2 133.30) scale(1 1.030)"><tspan font-style="italic">s</tspan>=3, <tspan font-style="italic">h</tspan>=21</text>
<text transform="translate(299.2 146.10) scale(1 1.030)"><tspan font-style="italic">s</tspan>=7/2, <tspan font-style="italic">h</tspan>=24.5</text>
<text transform="translate(299.2 158.90) scale(1 1.030)"><tspan font-style="italic">s</tspan>=4, <tspan font-style="italic">h</tspan>=28</text>
<text transform="translate(299.2 171.70) scale(1 1.030)"><tspan font-style="italic">s</tspan>=9/2, <tspan font-style="italic">h</tspan>=31.5</text>
<text transform="translate(299.2 184.50) scale(1 1.030)"><tspan font-style="italic">s</tspan>=5, <tspan font-style="italic">h</tspan>=35</text>
<text transform="translate(299.2 197.30) scale(1 1.030)">classical, <tspan font-style="italic">h</tspan>=7</text>
</g>
<g font-size="12.50">
<text transform="translate(40.4 307.59) scale(1 1.100)" text-anchor="end">0.3</text>
<text transform="translate(40.4 266.92) scale(1 1.100)" text-anchor="end">0.4</text>
<text transform="translate(40.4 226.25) scale(1 1.100)" text-anchor="end">0.5</text>
<text transform="translate(40.4 185.58) scale(1 1.100)" text-anchor="end">0.6</text>
<text transform="translate(40.4 144.91) scale(1 1.100)" text-anchor="end">0.7</text>
<text transform="translate(40.4 104.24) scale(1 1.100)" text-anchor="end">0.8</text>
<text transform="translate(40.4 63.57) scale(1 1.100)" text-anchor="end">0.9</text>
<text transform="translate(40.4 22.90) scale(1 1.100)" text-anchor="end">1</text>
<text transform="translate(49.95 341.2) scale(1 1.100)" text-anchor="middle">0</text>
<text transform="translate(115.35 341.2) scale(1 1.100)" text-anchor="middle">0.2</text>
<text transform="translate(180.75 341.2) scale(1 1.100)" text-anchor="middle">0.4</text>
<text transform="translate(246.15 341.2) scale(1 1.100)" text-anchor="middle">0.6</text>
<text transform="translate(311.55 341.2) scale(1 1.100)" text-anchor="middle">0.8</text>
<text transform="translate(376.95 341.2) scale(1 1.100)" text-anchor="middle">1</text>
<text transform="translate(201.1 361) scale(1 1.060)"><tspan font-style="italic">T</tspan>/<tspan font-style="italic">s</tspan><tspan font-size="9.5" dy="-5.9" dx="-1.0">2</tspan></text>
<text transform="translate(10.35 219.1) rotate(-90)"><tspan x="0.00" y="0.00" font-style="italic">s</tspan><tspan x="17.77" y="3.60" font-style="italic" font-size="10.5">h</tspan><tspan x="26.10" y="0.00">=</tspan><tspan x="37.38" y="0.00" font-style="italic">s</tspan><tspan x="43.83" y="0.00">/</tspan><tspan x="48.12" y="0.00" font-style="italic">T</tspan><tspan x="57.93" y="0.00">d</tspan><tspan x="65.79" y="0.00" font-style="italic">T</tspan><tspan x="73.53" y="0.00">/</tspan><tspan x="77.00" y="0.00">d</tspan><tspan x="84.27" y="0.00" font-style="italic">h</tspan><tspan x="91.03" y="0.00">|</tspan><tspan x="94.90" y="3.60" font-style="italic" font-size="10.5">S</tspan></text>
<text font-family="Liberation Serif" transform="translate(10.35 219.1) rotate(-90) translate(8.95 0) scale(1.3 1)" style="font-family:'Liberation Serif',serif">&#915;</text>
</g>
</svg></body></html>
